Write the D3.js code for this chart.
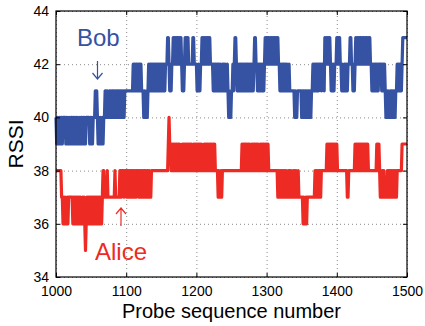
<!DOCTYPE html>
<html>
<head>
<meta charset="utf-8">
<script src="https://cdn.jsdelivr.net/npm/d3@7"></script>
<style>
  html, body { margin: 0; padding: 0; background: #fff; }
  svg { display: block; font-family: "Liberation Sans", Arial, Helvetica, sans-serif; }
</style>
</head>
<body>
<div id="chart"></div>
<script>
// CHART DATA (RSSI per probe)
const probeStart = 1000;
const xTicks = [1000, 1100, 1200, 1300, 1400, 1500];
const yTicks = [34, 36, 38, 40, 42, 44];

const bobRssi = [
  40,39,40,39,39,40,39,40,40,39, 40,40,40,40,39,40,39,40,39,39,
  40,39,40,40,39,40,39,40,39,40, 39,40,39,39,40,39,40,40,39,40,
  39,40,39,40,40,40,40,40,39,40, 39,40,39,40,
  40,40,41,40,41,40,
  39,40,39,40,39,39,40,39,40,40,
  41,41,40,41,40,40,41,
  40,41,40,41,41,40,41,40,41,40,41,41,40,41,40,41,40,41,40,41,40,41,41,41,
  41,41,41,41,41,41,41,41,41,
  42,41,42,41,42,42,41,42,41,42,41,42,41,41,
  41,40,41,40,40,41,40,41,
  42,41,42,41,42,41,42,41,42,42,41,42,41,42,41,42,41,42,42,41,42,41,42,41,42,42,
  42,43,43,42,41,42,41,42,42,
  43,42,43,42,43,42,43,43,42,43,42,43,42,41,42,41,42,43,42,43,42,43,42,42,
  42,42,42,42,43,43,42,42,42,42,41,
  41,42,41,41,42,42,
  43,42,43,42,43,42,43,42,43,43,42,43,42,42,
  42,42,41,42,41,42,42,
  41,42,41,42,41,42,41,41,42,41,42,41,42,41,41,42,
  41,40,41,40,40,41,41,
  42,41,42,43,43,42,41,42,41,42,41,42,42,41,42,41,42,41,42,41,42,42,41,42,41,42,42,41,42,41,42,
  43,43,42,
  42,41,42,41,42,42,41,42,41,42,41,42,
  43,42,43,42,43,43,42,43,42,43,42,43,42,43,43,42,43,42,43,42,42,
  41,42,41,42,41,42,42,41,42,41,42,41,41,42,
  41,41,41,41,41,41,41,
  40,41,40,40,41,41,41,41,41,41,
  40,41,40,41,40,41,41,40,41,40,41,40,41,40,41,41,
  42,41,42,41,42,42,41,42,41,42,
  42,42,41,42,42,42,41,
  43,42,43,42,43,43,42,43,42,
  41,42,41,42,41,42,42,42,
  43,43,42,43,43,42,42,
  41,42,41,41,42,
  42,41,42,41,42,42,42,
  43,43,42,42,41,42,41,42,
  43,42,43,42,43,42,43,43,42,43,42,43,42,43,42,43,43,42,43,42,43,42,42,
  41,42,41,42,41,42,42,41,42,41,42,42,
  42,42,41,42,42,41,42,
  41,40,41,40,41,40,40,41,40,41,40,41,40,41,40,41,41,
  42,41,42,41,42,42,41,
  42,43,43,43,43,43,43,43
];

const aliceRssi = [
  38,38,38,38,38,38,38,38,37,37,
  36,37,36,37,36,36,37,36,37,37,
  37,37,37,37,36,37,36,37,36,37,
  36,37,36,37,36,37,36,36,37,36,37,
  36,35,36,
  37,36,37,36,37,36,37,37,36,37,36,37,36,37,36,37,36,37,37,36,37,36,37,
  38,38,37,
  37,37,37,38,37,37,37,37,37,37,37,37,37,37,38,37,37,37,37,37,37,38,38,37,38,
  38,38,37,38,38,38,37,38,
  37,38,37,38,37,38,38,37,38,37,38,37,38,38,38,37,38,37,38,37,38,38,37,38,37,38,37,38,38,37,38,37,37,38,
  38,38,38,38,38,38,38,38,38,38,38,38,38,38,38,38,38,38,38,38,38,38,38,
  39,40,39,
  39,38,39,38,39,39,38,39,38,39, 38,39,38,39,38,38,38,39,38,39,
  38,39,39,38,39,38,39,38,39,38, 39,38,38,39,38,39,38,39,39,38,
  39,38,39,38,39,38,38,38,39,38, 39,38,39,39,38,39,38,39,38,39,
  38,39,38,39,38,38,38,38,
  37,38,37,37,38,37,38,
  38,38,38,38,38,38,38,38,38,38,38,38,38,38,38,38,38,38,38,38,38,38,38,38,38,38,38,
  39,38,39,38,39,39,38,39,38,39, 38,39,38,38,39,38,39,38,39,39,
  38,39,38,39,38,38,39,38,39,38, 39,39,38,39,38,39,38,39,38,38,
  38,38,38,38,38,38,38,38,38,38,38,
  37,38,37,38,37,38,38,37,38,37, 38,37,38,37,37,38,37,38,37,38,
  37,37,38,37,38,37,38,37,37,38, 37,37,
  37,37,37,37,36,37,36,36,37,36,37,
  37,37,37,37,37,37,37,37,37,37,
  38,37,38,37,38,37,38,38,37,38,38,
  38,38,38,38,38,38,
  39,38,39,38,39,38,39,39,38,39,38,39,38,39,39,38,
  38,38,38,38,38,38,38,38,38,38,38,38,38,
  37,37,
  38,38,38,38,38,38,38,38,38,
  39,38,39,38,39,39,38,39,38,39,38,39,38,39,38,39,39,38,39,38,38,
  38,38,38,38,38,38,38,38,38,38,
  39,39,38,39,38,
  37,38,37,38,37,38,37,37,37,37,38,37,38,37,38,37,38,37,38,37,38,37,38,37,38,
  38,38,38,38,38,38,
  39,39,39,39,39,39,39,39
];

// COLOURS
const bobColor = "#3552a3";
const aliceColor = "#ee2a24";

// SVG + SCALES
const width = 425, height = 326;
const margin = { top: 11, right: 18, bottom: 49, left: 56 };

const svg = d3.select("#chart").append("svg")
    .attr("width", width)
    .attr("height", height);

const x = d3.scaleLinear().domain([1000, 1500]).range([margin.left, width - margin.right]);
const y = d3.scaleLinear().domain([34, 44]).range([height - margin.bottom, margin.top]);
const plotW = width - margin.left - margin.right;
const plotH = height - margin.top - margin.bottom;

// DOTTED GRID
svg.append("g")
    .attr("transform", `translate(0,${height - margin.bottom})`)
    .call(d3.axisBottom(x).tickValues(xTicks).tickSize(-plotH).tickFormat(""))
    .call(g => g.select(".domain").remove())
    .selectAll("line")
    .attr("stroke", "#8a8a8a")
    .attr("stroke-dasharray", "1,3");

svg.append("g")
    .attr("transform", `translate(${margin.left},0)`)
    .call(d3.axisLeft(y).tickValues(yTicks).tickSize(-plotW).tickFormat(""))
    .call(g => g.select(".domain").remove())
    .selectAll("line")
    .attr("stroke", "#8a8a8a")
    .attr("stroke-dasharray", "1,3");

// SERIES
const line = d3.line()
    .x((d, i) => x(probeStart + i))
    .y(d => y(d));

svg.append("path")
    .datum(bobRssi)
    .attr("fill", "none")
    .attr("stroke", bobColor)
    .attr("stroke-width", 3.2)
    .attr("stroke-linejoin", "round")
    .attr("d", line);

svg.append("path")
    .datum(aliceRssi)
    .attr("fill", "none")
    .attr("stroke", aliceColor)
    .attr("stroke-width", 3.2)
    .attr("stroke-linejoin", "round")
    .attr("d", line);

// AXES (inward ticks on all four sides)
function styleAxis(g) {
    g.select(".domain").remove();
    g.selectAll("line").attr("stroke", "#000");
    g.selectAll("text").attr("fill", "#000").style("font-size", "14px");
}

svg.append("g")
    .attr("transform", `translate(0,${height - margin.bottom})`)
    .call(d3.axisBottom(x).tickValues(xTicks).tickSize(-4).tickPadding(9).tickFormat(d3.format("d")))
    .call(styleAxis);

svg.append("g")
    .attr("transform", `translate(0,${margin.top})`)
    .call(d3.axisTop(x).tickValues(xTicks).tickSize(-4).tickFormat(""))
    .call(styleAxis);

svg.append("g")
    .attr("transform", `translate(${margin.left},0)`)
    .call(d3.axisLeft(y).tickValues(yTicks).tickSize(-4).tickPadding(7))
    .call(styleAxis);

svg.append("g")
    .attr("transform", `translate(${width - margin.right},0)`)
    .call(d3.axisRight(y).tickValues(yTicks).tickSize(-4).tickFormat(""))
    .call(styleAxis);

// FRAME
svg.append("rect")
    .attr("x", margin.left)
    .attr("y", margin.top)
    .attr("width", plotW)
    .attr("height", plotH)
    .attr("fill", "none")
    .attr("stroke", "#000")
    .attr("stroke-width", 1.2);

// AXIS TITLES
svg.append("text")
    .attr("x", margin.left + plotW / 2)
    .attr("y", 318)
    .attr("text-anchor", "middle")
    .style("font-size", "20px")
    .text("Probe sequence number");

svg.append("text")
    .attr("transform", `translate(23,${margin.top + plotH / 2}) rotate(-90)`)
    .attr("text-anchor", "middle")
    .style("font-size", "21px")
    .text("RSSI");

// ANNOTATIONS
svg.append("text")
    .attr("x", 77)
    .attr("y", 46)
    .attr("fill", bobColor)
    .style("font-size", "24px")
    .text("Bob");

svg.append("path")
    .attr("d", "M97.5,61 L97.5,79 M92.5,73 L97.5,79 L102.5,73")
    .attr("fill", "none")
    .attr("stroke", bobColor)
    .attr("stroke-width", 1.2);

svg.append("text")
    .attr("x", 95)
    .attr("y", 260)
    .attr("fill", aliceColor)
    .style("font-size", "24px")
    .text("Alice");

svg.append("path")
    .attr("d", "M121,226 L121,208 M116,214 L121,208 L126,214")
    .attr("fill", "none")
    .attr("stroke", aliceColor)
    .attr("stroke-width", 1.2);
</script>
</body>
</html>
